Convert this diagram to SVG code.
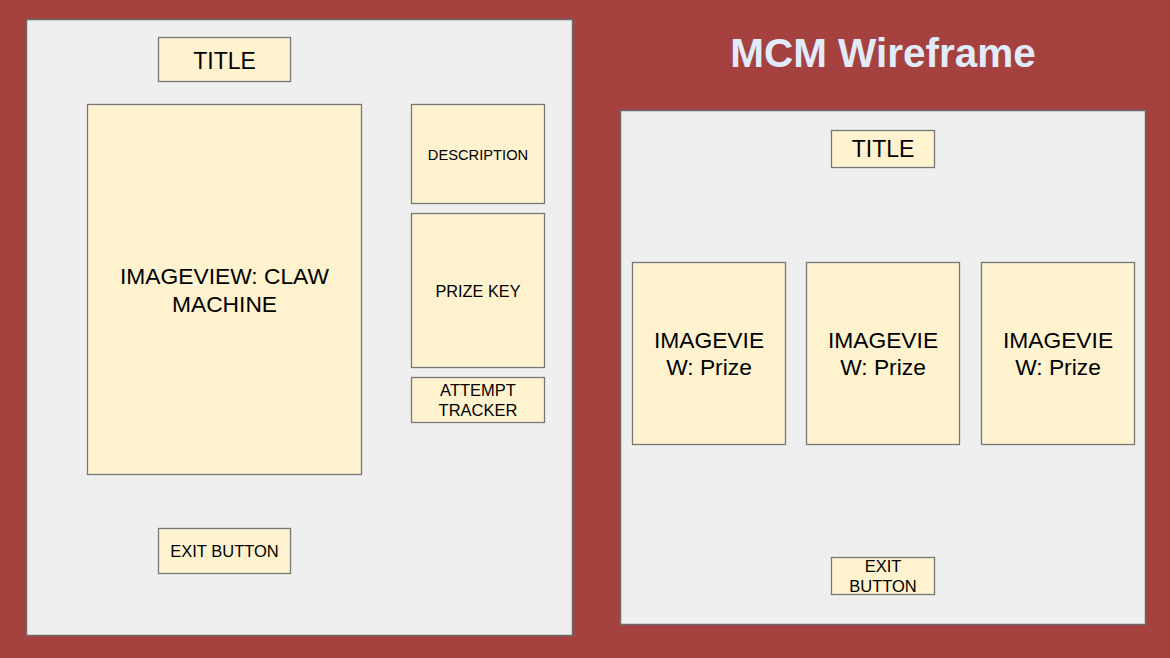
<svg xmlns="http://www.w3.org/2000/svg" width="1170" height="658" viewBox="0 0 1170 658">
<style>
.panel{fill:#EFEFEF;stroke:#6b6b6b;stroke-width:1.5}
.box{fill:#FFF2CF;stroke:#777;stroke-width:1.3}
text{font-family:"Liberation Sans",Arial,sans-serif;fill:#000;text-anchor:middle;dominant-baseline:central}
.head{font-weight:bold;font-size:40.5px;fill:#E1EBFA}
.big{font-size:22.8px}
.mid{font-size:16.5px}
</style>
<rect width="1170" height="658" fill="#A5423F"/>
<text class="head" x="883" y="53">MCM Wireframe</text>
<g id="left-panel"><rect class="panel" x="26.5" y="19.5" width="546" height="616"/></g>
<g id="right-panel"><rect class="panel" x="620.5" y="110.5" width="525" height="514"/></g>
<g id="title-left"><rect class="box" x="158.5" y="37.5" width="132" height="44"/><text x="224.5" y="61" font-size="23">TITLE</text></g>
<g id="claw-machine"><rect class="box" x="87.5" y="104.5" width="274" height="370"/><text class="big" x="224.5" y="276">IMAGEVIEW: CLAW</text><text class="big" x="224.5" y="304">MACHINE</text></g>
<g id="description"><rect class="box" x="411.5" y="104.5" width="133" height="99"/><text x="478" y="155" font-size="14.7">DESCRIPTION</text></g>
<g id="prize-key"><rect class="box" x="411.5" y="213.5" width="133" height="154"/><text x="478" y="291" font-size="16.3">PRIZE KEY</text></g>
<g id="attempt-tracker"><rect class="box" x="411.5" y="377.5" width="133" height="45"/><text class="mid" x="478" y="390">ATTEMPT</text><text class="mid" x="478" y="410">TRACKER</text></g>
<g id="exit-left"><rect class="box" x="158.5" y="528.5" width="132" height="45"/><text class="mid" x="224.5" y="551">EXIT BUTTON</text></g>
<g id="title-right"><rect class="box" x="831.5" y="130.5" width="103" height="37"/><text x="883" y="149" font-size="23">TITLE</text></g>
<g id="prize-1"><rect class="box" x="632.5" y="262.5" width="153" height="182"/><text class="big" x="709" y="340">IMAGEVIE</text><text class="big" x="709" y="367">W: Prize</text></g>
<g id="prize-2"><rect class="box" x="806.5" y="262.5" width="153" height="182"/><text class="big" x="883" y="340">IMAGEVIE</text><text class="big" x="883" y="367">W: Prize</text></g>
<g id="prize-3"><rect class="box" x="981.5" y="262.5" width="153" height="182"/><text class="big" x="1058" y="340">IMAGEVIE</text><text class="big" x="1058" y="367">W: Prize</text></g>
<g id="exit-right"><rect class="box" x="831.5" y="557.5" width="103" height="37"/><text class="mid" x="883" y="566">EXIT</text><text class="mid" x="883" y="586">BUTTON</text></g>
<g id="connectors"></g>
</svg>
